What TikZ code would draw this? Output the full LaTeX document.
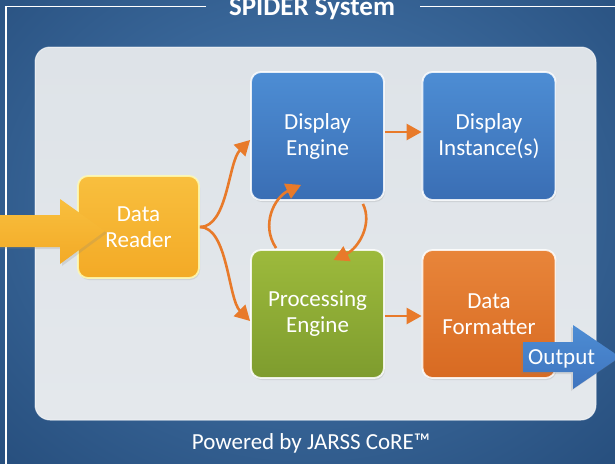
\documentclass[tikz,border=0pt]{standalone}
\usepackage{fontspec}
\setmainfont{Carlito}
\usetikzlibrary{arrows.meta,shadows,calc}
\definecolor{bgin}{HTML}{4A7DB3}
\definecolor{bgout}{HTML}{28507F}
\definecolor{panel}{HTML}{DEE3E8}
\definecolor{panelb}{HTML}{E4E8EC}
\definecolor{blueT}{HTML}{4D8DD4}
\definecolor{blueB}{HTML}{3A6EB4}
\definecolor{yelT}{HTML}{F8BF3E}
\definecolor{yelB}{HTML}{F3AA26}
\definecolor{grnT}{HTML}{9DBA3C}
\definecolor{grnB}{HTML}{7E9C2E}
\definecolor{orT}{HTML}{E8853A}
\definecolor{orB}{HTML}{D86A22}
\definecolor{conn}{HTML}{E87A2A}
\definecolor{outblue}{HTML}{3F74BE}
\begin{document}
\begin{tikzpicture}[x=1pt,y=-1pt,
  box/.style={rounded corners=10pt, minimum width=133pt, minimum height=128pt,
    draw=white, draw opacity=0.85, line width=1.8pt, text=white,
    font=\fontsize{23}{26}\selectfont, align=center, inner sep=0pt,
    drop shadow={opacity=0.18, shadow xshift=1pt, shadow yshift=-2pt}},
  label/.style={text=white, font=\fontsize{23}{26}\selectfont, align=center, inner sep=0pt},
  link/.style={draw=conn, line width=2.6pt, -{Triangle[length=15pt,width=16pt]}},
  frame/.style={draw=white, line width=1.3pt}]
\useasboundingbox (0,0) rectangle (615,463);
\shade[inner color=bgin, outer color=bgout] (-120,-150) rectangle (735,560);
% frame
\draw[frame] (206,6.5) -- (6,6.5) -- (6,470);
\draw[frame] (420,6.5) -- (620,6.5);
\node[anchor=base, text=white, font=\bfseries\fontsize{27}{30}\selectfont] (title) at (312,15.5) {SPIDER System};
% panel
\shade[top color=panel, bottom color=panelb, draw=white, draw opacity=0.6, line width=1pt, rounded corners=15pt] (35,47) rectangle (596,420);
\node[anchor=base, text=white, font=\fontsize{23}{26}\selectfont] (pw) at (311,449) {Powered by JARSS CoRE™};
% boxes
\node[box, top color=yelT, bottom color=yelB, minimum width=121pt, minimum height=102pt, draw=yellow!30] (dr) at (138.5,227) {};
\node[box, top color=blueT, bottom color=blueB] (de) at (317.5,136) {Display\\Engine};
\node[box, top color=blueT, bottom color=blueB] (di) at (489,136) {Display\\Instance(s)};
\node[box, top color=grnT, bottom color=grnB] (pe) at (317.5,314) {Processing\\Engine};
\node[box, top color=orT, bottom color=orB] (df) at (489,314) {Data\\Formatter};
% input arrow
\shade[top color=yelT, bottom color=yelB, drop shadow={opacity=0.2, shadow xshift=2pt, shadow yshift=-2pt}]
  (-5,215) -- (60,215) -- (60,199) -- (105,231) -- (60,264) -- (60,247) -- (-5,247) -- cycle;
\node[label] (drt) at (dr.center) {Data\\Reader};
% output arrow
\shade[top color=blueT, bottom color=outblue, drop shadow={opacity=0.2, shadow xshift=-2pt, shadow yshift=-2pt}]
  (523,342) -- (573,342) -- (573,325) -- (620,357) -- (573,389) -- (573,372) -- (523,372) -- cycle;
\node[anchor=base west, text=white, font=\fontsize{23}{26}\selectfont, inner sep=0pt] (out) at (528,364) {Output};
% connectors
\draw[link] (dr.east) .. controls +(28,0) and +(-22,22) .. ($(de.west)+(0,4)$);
\draw[link] (dr.east) .. controls +(28,0) and +(-22,-22) .. ($(pe.west)+(0,7)$);
\draw[link] ($(de.east)+(0,-4)$) -- ($(di.west)+(0,-4)$);
\draw[link] ($(pe.east)+(0,2)$) -- ($(df.west)+(0,2)$);
\draw[link] ($(pe.north west)+(26,-1)$) .. controls +(-16,-24) and +(-26,12) .. ($(de.south west)+(51,-16)$);
\draw[link] ($(de.south east)+(-22,3)$) .. controls +(10,20) and +(25,-12) .. ($(pe.north)+(16,11)$);
\end{tikzpicture}
\end{document}
